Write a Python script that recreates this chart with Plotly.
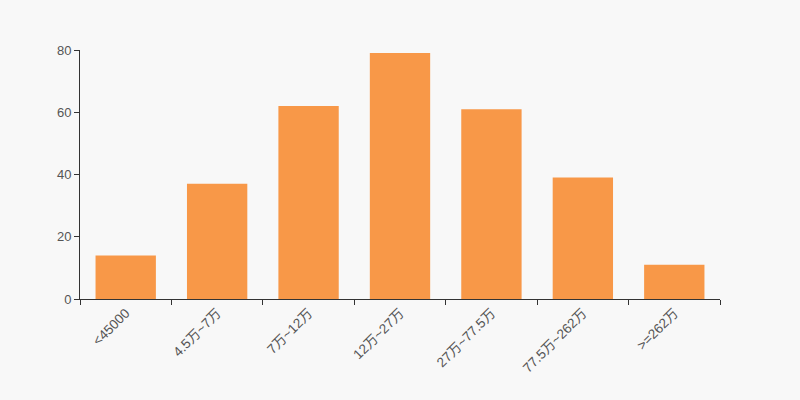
import plotly.graph_objects as go

categories = ["<45000", "4.5万~7万", "7万~12万", "12万~27万", "27万~77.5万", "77.5万~262万", ">=262万"]
values = [14, 37, 62, 79, 61, 39, 11]
y_ticks = [0, 20, 40, 60, 80]

fig = go.Figure(go.Bar(x=categories, y=values, marker=dict(color="#f89848", line=dict(width=0)), hoverinfo="x+y"))

font_family = "Liberation Sans, Arial, Noto Sans CJK SC, sans-serif"
fig.update_layout(
    width=800, height=400,
    paper_bgcolor="#f8f8f8", plot_bgcolor="#f8f8f8",
    margin=dict(l=80, r=80, t=50, b=101),
    bargap=0.34,
    showlegend=False,
    font=dict(family=font_family, size=13, color="#333"),
)
fig.update_xaxes(
    type="category", tickson="boundaries", ticks="outside", ticklen=5, tickcolor="#333",
    showline=True, linecolor="#333", linewidth=1, tickangle=-45, showgrid=False,
    tickfont=dict(size=13.5, color="#555"), ticklabelstandoff=0,
)
fig.update_yaxes(
    range=[0, 80], tickvals=y_ticks, ticks="outside", ticklen=5, tickcolor="#333",
    showline=True, linecolor="#333", linewidth=1, showgrid=False, zeroline=False,
    tickfont=dict(size=13, color="#555"),
)
fig.write_html(
    "out.html",
    config={"displayModeBar": False},
    post_script="document.body.style.margin='0';document.body.style.background='#f8f8f8';",
)
